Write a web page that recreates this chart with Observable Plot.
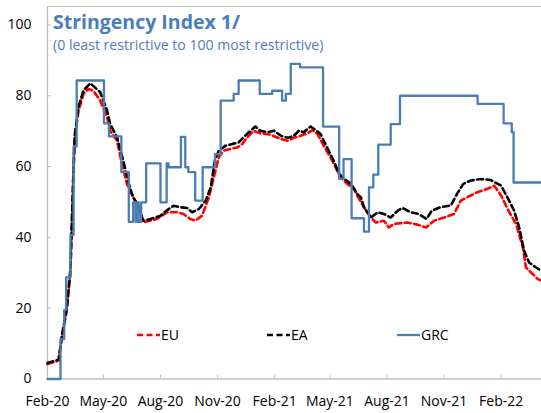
<!DOCTYPE html>
<html>
<head>
<meta charset="utf-8">
<script src="https://cdn.jsdelivr.net/npm/d3@7"></script>
<script src="https://cdn.jsdelivr.net/npm/@observablehq/plot@0.6"></script>
<style>
  html, body { margin: 0; padding: 0; background: #fff; }
  #chart { width: 541px; height: 413px; }
</style>
</head>
<body>
<div id="chart"></div>
<script>
// ---- Data ----
const grcDates = ["2020-02-01","2020-02-22","2020-02-28","2020-03-02","2020-03-09","2020-03-14","2020-03-19","2020-05-02","2020-05-10","2020-05-30","2020-06-11","2020-06-18","2020-06-22","2020-06-25","2020-06-27","2020-07-01","2020-07-09","2020-08-01","2020-08-11","2020-08-14","2020-09-03","2020-09-10","2020-09-15","2020-09-26","2020-10-08","2020-10-28","2020-11-06","2020-11-27","2020-12-05","2021-01-08","2021-01-28","2021-02-13","2021-02-19","2021-02-27","2021-03-14","2021-04-20","2021-05-16","2021-05-23","2021-06-05","2021-06-25","2021-07-03","2021-07-10","2021-07-18","2021-08-07","2021-08-22","2021-12-25","2022-02-05","2022-02-18","2022-02-21","2022-04-07"];
const grcValues = [0,11.3,19.5,28.7,40.7,65.6,84.3,72.2,68.5,58.4,44.4,49.9,44.4,49.9,44.4,49.9,60.9,49.9,60.9,59.8,68.4,59.8,58.4,50.4,59.8,63.5,78.6,80.5,84.3,80.5,81.4,78.6,80.5,89.0,88.0,71.3,56.5,62.1,45.4,41.6,54.1,57.7,66.2,72.0,80.0,77.7,72.2,69.7,55.5,55.5];

const euDates = ["2020-02-01","2020-02-19","2020-02-24","2020-03-03","2020-03-09","2020-03-11","2020-03-14","2020-03-16","2020-03-22","2020-03-30","2020-04-07","2020-04-15","2020-04-26","2020-05-07","2020-05-12","2020-05-23","2020-05-31","2020-06-08","2020-06-18","2020-06-29","2020-07-04","2020-07-26","2020-08-12","2020-08-28","2020-09-07","2020-09-18","2020-09-26","2020-10-07","2020-10-18","2020-10-26","2020-11-03","2020-11-11","2020-11-22","2020-12-03","2020-12-11","2020-12-19","2020-12-29","2021-01-09","2021-01-25","2021-02-11","2021-02-22","2021-03-04","2021-03-15","2021-03-26","2021-04-03","2021-04-11","2021-04-21","2021-05-02","2021-05-10","2021-05-18","2021-05-29","2021-06-09","2021-06-14","2021-06-25","2021-07-06","2021-07-14","2021-07-27","2021-08-04","2021-08-12","2021-09-03","2021-09-19","2021-10-03","2021-10-16","2021-11-01","2021-11-17","2021-11-28","2021-12-08","2021-12-24","2022-01-10","2022-01-21","2022-02-01","2022-02-14","2022-02-25","2022-03-08","2022-03-13","2022-03-21","2022-04-01","2022-04-07"];
const euValues = [4.2,5.2,11.8,19.3,30.6,41.9,58.8,68.3,75.8,80.5,81.9,81.4,78.6,73.9,70.1,67.3,60.7,55.1,51.3,48.5,44.2,45.2,47.1,47.1,46.6,45.2,44.7,46.1,51.3,57.0,62.6,64.5,65.0,65.4,66.4,68.3,70.1,69.4,69.0,67.8,67.3,68.1,68.7,69.4,70.3,69.2,65.9,62.6,59.8,57.0,55.1,53.7,51.8,48.5,45.6,44.2,44.7,42.8,43.8,44.2,43.6,42.8,44.7,45.6,46.6,50.4,51.3,52.7,53.7,54.6,51.8,47.1,43.8,37.2,31.5,30.1,28.2,27.8];

const eaDates = ["2020-02-01","2020-02-19","2020-02-24","2020-03-03","2020-03-09","2020-03-11","2020-03-14","2020-03-16","2020-03-22","2020-03-30","2020-04-10","2020-04-26","2020-05-07","2020-05-12","2020-05-23","2020-06-02","2020-06-11","2020-06-18","2020-06-27","2020-07-04","2020-07-16","2020-08-01","2020-08-12","2020-08-22","2020-09-02","2020-09-13","2020-09-21","2020-10-02","2020-10-13","2020-10-21","2020-10-28","2020-11-03","2020-11-14","2020-11-25","2020-12-05","2020-12-13","2020-12-24","2021-01-01","2021-01-09","2021-01-20","2021-01-31","2021-02-11","2021-02-22","2021-03-04","2021-03-12","2021-03-20","2021-03-31","2021-04-08","2021-04-16","2021-04-21","2021-04-29","2021-05-07","2021-05-16","2021-05-24","2021-06-04","2021-06-14","2021-06-20","2021-06-25","2021-07-06","2021-07-17","2021-07-27","2021-08-07","2021-08-18","2021-08-26","2021-09-08","2021-09-21","2021-10-04","2021-10-12","2021-10-26","2021-11-12","2021-11-22","2021-12-02","2021-12-13","2021-12-30","2022-01-15","2022-02-01","2022-02-11","2022-02-22","2022-03-02","2022-03-10","2022-03-18","2022-03-29","2022-04-07"];
const eaValues = [4.5,5.5,12.0,20.0,31.0,43.0,60.0,69.0,77.0,81.5,83.5,81.0,75.8,72.0,68.3,61.7,55.1,51.3,48.5,44.7,45.2,46.1,47.7,48.9,48.5,48.3,47.1,48.0,50.4,54.1,62.0,64.5,65.9,66.4,66.8,68.3,70.1,71.3,70.1,69.7,70.1,68.7,68.1,68.7,70.1,69.7,71.3,70.3,69.2,67.3,64.5,61.7,57.9,56.5,55.1,52.3,51.3,48.5,45.6,47.1,46.6,45.6,47.5,48.3,47.1,46.6,45.2,47.5,48.5,49.0,52.3,55.1,56.0,56.5,56.2,54.6,51.3,47.5,42.8,36.2,32.9,31.5,30.6];

const seriesNames = ["EU", "EA", "GRC"];
const xTickDates = ["2020-02-01","2020-05-01","2020-08-01","2020-11-01","2021-02-01","2021-05-01","2021-08-01","2021-11-01","2022-02-01"];
const yTicks = [0, 20, 40, 60, 80, 100];
const xDomain = ["2020-02-01", "2022-04-07"];
const yMax = 105.2;
const titleText = "Stringency Index 1/";
const subtitleText = "(0 least restrictive to 100 most restrictive)";

// ---- Build tables ----
const parse = d3.utcParse("%Y-%m-%d");
const toRows = (dates, values, name) => dates.map((d, i) => ({date: parse(d), value: values[i], series: name}));
const eu = toRows(euDates, euValues, "EU");
const ea = toRows(eaDates, eaValues, "EA");
const grc = toRows(grcDates, grcValues, "GRC");

const colors = {EU: "#ff0000", EA: "#000000", GRC: "#4a7db4"};
const axisColor = "#bfbfbf";
const font = "'Open Sans', 'Segoe UI', sans-serif";
const fmt = d3.utcFormat("%b-%y");

const W = 541, H = 413;
const mL = 47, mR = 0, mT = 6, mB = 34.5;

const plot = Plot.plot({
  width: W,
  height: H,
  marginLeft: mL,
  marginRight: mR,
  marginTop: mT,
  marginBottom: mB,
  style: {fontFamily: font, fontSize: "14px", color: "#000", background: "#fff", overflow: "visible"},
  x: {type: "utc", domain: xDomain.map(parse)},
  y: {domain: [0, yMax]},
  marks: [
    Plot.frame({anchor: "top", stroke: axisColor}),
    Plot.axisX({ticks: xTickDates.map(parse), tickFormat: fmt, tickSize: -4, tickPadding: 21, stroke: axisColor, color: "#000", fontSize: 14, label: null}),
    Plot.axisY({ticks: yTicks, tickSize: -4, tickPadding: 20, stroke: axisColor, color: "#000", fontSize: 14, label: null}),
    Plot.ruleY([0], {stroke: axisColor, strokeWidth: 1.3}),
    Plot.ruleX([parse(xDomain[0])], {stroke: axisColor, strokeWidth: 1.3}),
    Plot.line(eu, {x: "date", y: "value", stroke: colors.EU, strokeWidth: 2.6, strokeDasharray: "6,3.5", strokeLinejoin: "round"}),
    Plot.line(ea, {x: "date", y: "value", stroke: colors.EA, strokeWidth: 2.6, strokeDasharray: "6,3.5", strokeLinejoin: "round"}),
    Plot.line(grc, {x: "date", y: "value", stroke: colors.GRC, strokeWidth: 2.3, curve: "step-after"})
  ]
});

document.getElementById("chart").appendChild(plot);

// ---- Title, subtitle and in-plot legend ----
const svg = d3.select(plot);
svg.append("text")
  .attr("x", 53).attr("y", 29)
  .attr("text-anchor", "start")
  .attr("fill", "#4a7ebb")
  .attr("font-family", font)
  .attr("font-weight", "bold")
  .attr("font-size", 19.5)
  .text(titleText);
svg.append("text")
  .attr("x", 53).attr("y", 50)
  .attr("text-anchor", "start")
  .attr("fill", "#4a7ebb")
  .attr("font-family", font)
  .attr("font-size", 14.1)
  .text(subtitleText);

const legendX = [137, 267, 397];
const legendY = 335;
const lg = svg.append("g");
seriesNames.forEach((name, i) => {
  const x0 = legendX[i];
  lg.append("line")
    .attr("x1", x0).attr("x2", x0 + 23)
    .attr("y1", legendY).attr("y2", legendY)
    .attr("stroke", colors[name])
    .attr("stroke-width", name === "GRC" ? 2.3 : 2.6)
    .attr("stroke-dasharray", name === "GRC" ? null : "6,3.5");
  lg.append("text")
    .attr("x", x0 + 24).attr("y", legendY)
    .attr("dy", "0.35em")
    .attr("text-anchor", "start")
    .attr("font-family", font)
    .attr("font-size", 14)
    .attr("fill", "#000")
    .text(name);
});
</script>
</body>
</html>
